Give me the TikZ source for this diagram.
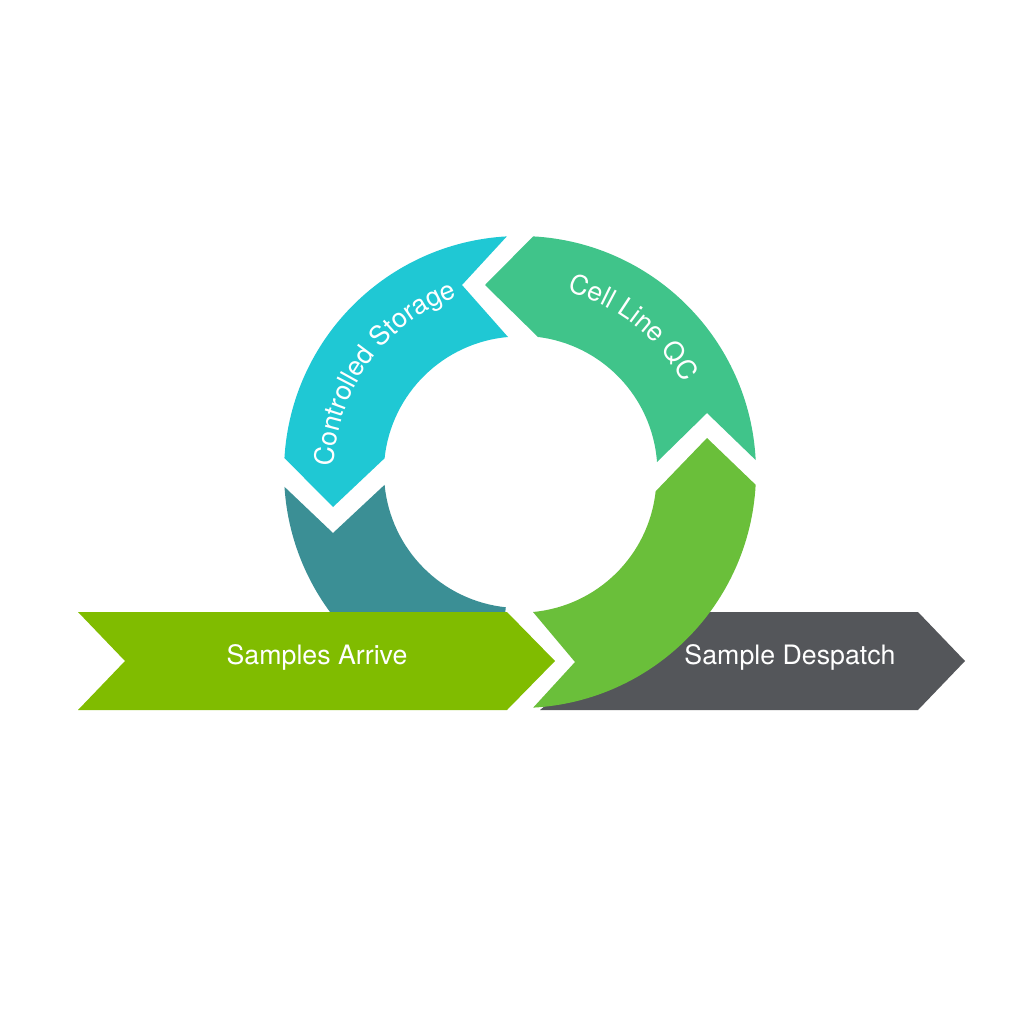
\documentclass[tikz,border=0pt]{standalone}
\usepackage{fontspec}
\setmainfont{TeX Gyre Heros}
\usetikzlibrary{positioning,decorations.text}
\definecolor{cyanseg}{HTML}{1FC8D4}
\definecolor{qcseg}{HTML}{40C48A}
\definecolor{limeseg}{HTML}{6ABF3A}
\definecolor{tealseg}{HTML}{3B8F95}
\definecolor{arrive}{HTML}{80BC00}
\definecolor{despatch}{HTML}{54565A}
\newcommand{\labelfont}{\fontsize{7.6}{9}\selectfont}
\tikzset{
    seglabel/.style={
           text=white,
           font=\labelfont,
           },
    curvelabel/.style={
           decorate,
           decoration={text along path, text align=center, text color=white,
                       text={|\labelfont|#1}},
           },
}
\begin{document}
\begin{tikzpicture}[x=0.01cm,y=-0.01cm]
 \useasboundingbox (0,0) rectangle (1024,1024);
 \coordinate (C) at (520,472);

 % ring segments (angles measured clockwise, y down)
 \fill[tealseg] (C) ++(176.4:236) arc[start angle=176.4, end angle=96, radius=236]
   -- ++(96:-100) arc[start angle=96, end angle=174.6, radius=136]
   -- (333,533) -- cycle;
 \fill[cyanseg] (C) ++(183.4:236) arc[start angle=183.4, end angle=266.8, radius=236]
   -- (462,285) -- (508,337) arc[start angle=265, end angle=186, radius=136]
   -- (333,507) -- cycle;
 \fill[qcseg] (C) ++(273.2:236) arc[start angle=273.2, end angle=357.1, radius=236]
   -- (707,413) -- (657,462) arc[start angle=355.8, end angle=277, radius=136]
   -- (485,285) -- cycle;

 % bands
 \fill[despatch] (620,612) -- (918,612) -- (965,661) -- (918,710) -- (540,710) -- (600,661) -- cycle;
 \fill[arrive] (78,612) -- (507,612) -- (555,661) -- (507,710) -- (78,710) -- (125,661) -- cycle;

 \fill[limeseg] (C) ++(3.1:236) arc[start angle=3.1, end angle=86.8, radius=236]
   -- (575,662) -- (533,612) arc[start angle=84.7, end angle=6.2, radius=136]
   -- (707,438) -- cycle;

 % labels
 \node[seglabel] (arrivelabel) at (317,657) {Samples Arrive};
 \node[seglabel] (despatchlabel) at (790,657) {Sample Despatch};
 \path[curvelabel={Controlled Storage}] (C) ++(170:186) arc[start angle=170, end angle=262, radius=186];
 \path[curvelabel={Cell Line QC}] (C) ++(270:186) arc[start angle=270, end angle=346, radius=186];
\end{tikzpicture}
\end{document}
